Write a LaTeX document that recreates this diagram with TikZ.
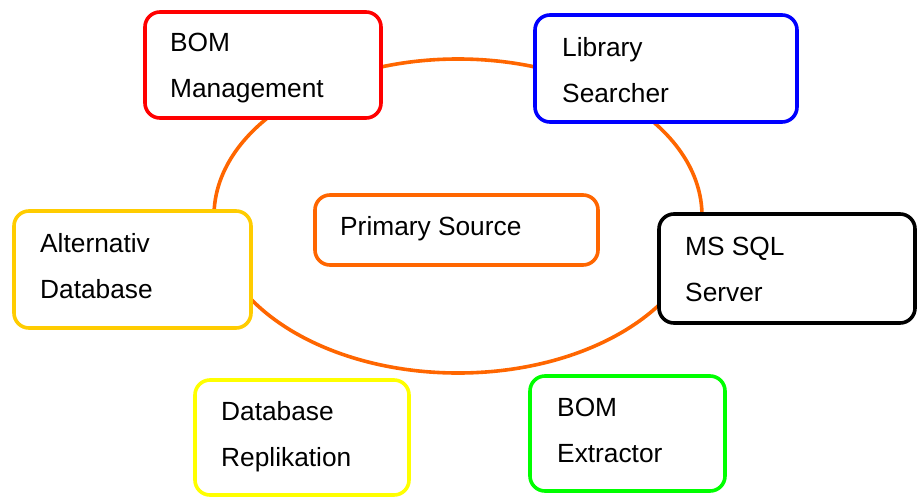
\documentclass[tikz,border=0pt]{standalone}
\usepackage{fontspec}
\setmainfont{Liberation Sans}
\usepackage{tikz}
\definecolor{ringorange}{HTML}{FF6600}
\definecolor{boxred}{HTML}{FF0000}
\definecolor{boxblue}{HTML}{0000FF}
\definecolor{boxgold}{HTML}{FFCC00}
\definecolor{boxyellow}{HTML}{FFFF00}
\definecolor{boxgreen}{HTML}{00FF00}
\tikzset{
	box/.style 2 args={draw=#1,line width=3.6pt,fill=white,rounded corners=15pt,minimum width=#2,inner sep=0pt},
	lbl/.style={anchor=base west,align=left,inner sep=0pt,font=\fontsize{26.3}{45.5}\selectfont}
}

\begin{document}
\begin{tikzpicture}[x=1pt,y=-1pt]
	\useasboundingbox (0,0) rectangle (917,498);
	\draw [ringorange,line width=3.6pt] (458,216) ellipse [x radius=244,y radius=157];

	\node [box={boxred}{236pt},minimum height=106pt] (bom) at (263,65) {};
	\node [box={boxblue}{262pt},minimum height=107pt] (lib) at (666,68.5) {};
	\node [box={ringorange}{283pt},minimum height=70pt] (prim) at (456.5,230) {};
	\node [box={black}{256pt},minimum height=109pt] (sql) at (787,268.5) {};
	\node [box={boxgold}{237pt},minimum height=117pt] (alt) at (132.5,269.5) {};
	\node [box={boxyellow}{214pt},minimum height=115pt] (rep) at (302,437.5) {};
	\node [box={boxgreen}{195pt},minimum height=115pt] (ext) at (627.5,433.5) {};

	\node [lbl] (bomtext) at (170,97) {BOM\\Management};
	\node [lbl] (libtext) at (562,102) {Library\\Searcher};
	\node [lbl] (primtext) at (340,235) {Primary Source};
	\node [lbl] (sqltext) at (685,301) {MS SQL\\Server};
	\node [lbl] (alttext) at (40,298) {Alternativ\\Database};
	\node [lbl] (reptext) at (221,466) {Database\\Replikation};
	\node [lbl] (exttext) at (557,462) {BOM\\Extractor};
\end{tikzpicture}
\end{document}
